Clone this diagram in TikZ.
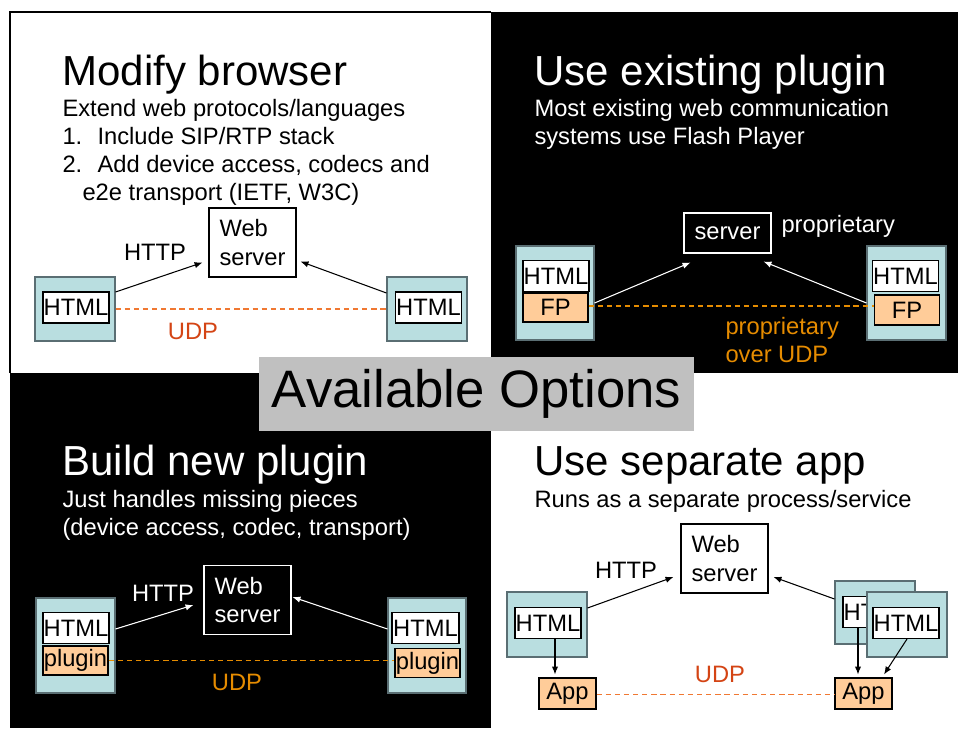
\documentclass[tikz,border=0pt]{standalone}
\usepackage{fontspec}
\setmainfont{Liberation Sans}
\usetikzlibrary{arrows.meta}

\definecolor{paneblue}{RGB}{185,222,224}
\definecolor{paneedge}{RGB}{90,110,115}
\definecolor{peach}{RGB}{255,204,153}
\definecolor{udpred}{RGB}{212,68,20}
\definecolor{udpline}{RGB}{240,120,50}
\definecolor{udporange}{RGB}{230,140,0}
\definecolor{bannergrey}{RGB}{192,192,192}

\newlength{\pxl}\setlength{\pxl}{0.02cm}
\newcommand{\headfont}{\fontsize{23.9}{28}\selectfont}
\newcommand{\bodyfont}{\fontsize{13.5}{16}\selectfont}

\tikzset{
  every node/.style={font=\bodyfont},
  caption/.style={anchor=base west, inner sep=0pt, align=left},
  pane/.style 2 args={draw=paneedge, fill=paneblue, minimum width=#1\pxl, minimum height=#2\pxl, inner sep=0pt},
  htmlbox/.style={draw=black, fill=white, text=black, minimum width=66\pxl, minimum height=31\pxl, inner sep=0pt},
  plugbox/.style={draw=black, fill=peach, text=black, minimum width=65\pxl, minimum height=29\pxl, inner sep=0pt},
  appbox/.style={draw=black, fill=peach, minimum width=57\pxl, minimum height=31\pxl, inner sep=0pt},
  webbox/.style={draw, align=left, minimum width=87\pxl, minimum height=69\pxl, inner sep=0pt},
  link/.style={-{Latex[length=4.5pt,width=3.6pt]}},
  udp/.style={dash pattern=on 3pt off 2.2pt, line width=0.9pt}
}

\begin{document}
\begin{tikzpicture}[x=0.02cm, y=-0.02cm, line width=0.6pt]
  \useasboundingbox (0,0) rectangle (958,728);

  % quadrants
  \fill[white] (10,12) rectangle (958,728);
  \fill[black] (491,12) rectangle (958,373);
  \fill[black] (10,373) rectangle (491,728);
  \draw (10,373) -- (10,12) -- (491,12);

  % modify browser
  \node[caption, font=\headfont] at (62,85) (titleA) {Modify browser};
  % (multi-line captions sit on their last baseline)
  \node[caption] at (62,200.7) (textA) {Extend web protocols/languages\\
    \makebox[35\pxl][l]{1.}Include SIP/RTP stack\\
    \makebox[35\pxl][l]{2.}Add device access, codecs and\\
    \hspace*{20\pxl}e2e transport (IETF, W3C)};

  \node[webbox] at (252.5,242.5) (webA) {Web\\server};
  \node[pane={80}{64}] at (75,309) (hostA1) {};
  \node[htmlbox] at (76,307.5) (htmlA1) {HTML};
  \node[pane={80}{64}] at (427,309) (hostA2) {};
  \node[htmlbox] at (428.5,307.5) (htmlA2) {HTML};

  \draw[link] ([shift={(0,-17)}]hostA1.east) -- ([shift={(-6,-15)}]webA.south west);
  \draw[link] ([shift={(0,-16)}]hostA2.west) -- ([shift={(4,-16)}]webA.south east);
  \draw[udp, draw=udpline] (hostA1.east) -- (hostA2.west);
  \node at (155,252) (httpA) {HTTP};
  \node[text=udpred] at (193,331) (udpA) {UDP};

  % existing plugin
  \node[caption, font=\headfont, text=white] at (534,85) (titleB) {Use existing plugin};
  \node[caption, text=white] at (534,144.2) (textB) {Most existing web communication\\
    systems use Flash Player};

  \node[webbox, draw=white, text=white, minimum height=40\pxl, align=center] at (727.5,233) (serverB) {server};
  \node[text=white, anchor=west, inner sep=0pt] at (781,226) (propB) {proprietary};
  \node[pane={78}{94}] at (555,293) (hostB1) {};
  \node[htmlbox] at (556,276) (htmlB1) {HTML};
  \node[plugbox] at (555.5,307.5) (fpB1) {FP};
  \node[pane={79}{94}] at (906.5,293) (hostB2) {};
  \node[htmlbox] at (905.5,276) (htmlB2) {HTML};
  \node[plugbox, minimum height=30\pxl] at (907,310) (fpB2) {FP};

  \draw[link, draw=white, fill=white] ([shift={(0,10)}]hostB1.east) -- ([shift={(7,9)}]serverB.south west);
  \draw[link, draw=white, fill=white] ([shift={(0,10)}]hostB2.west) -- ([shift={(-8,8)}]serverB.south east);
  \draw[udp, draw=udporange] ([yshift=1]fpB1.east) -- ([yshift=1]fpB1.east -| fpB2.west);
  \node[text=udporange, anchor=west, align=left, inner sep=0pt] at (725,340) (overB) {proprietary\\over UDP};

  % new plugin
  \node[caption, font=\headfont, text=white] at (62,475) (titleC) {Build new plugin};
  \node[caption, text=white] at (62,535.2) (textC) {Just handles missing pieces\\
    (device access, codec, transport)};

  \node[webbox, draw=white, text=white] at (247.5,600) (webC) {Web\\server};
  \node[pane={79}{95}] at (75.5,645.5) (hostC1) {};
  \node[htmlbox] at (76,628) (htmlC1) {HTML};
  \node[plugbox] at (75.5,660.5) (plugC1) {plugin};
  \node[pane={78}{95}] at (427,645.5) (hostC2) {};
  \node[htmlbox, minimum width=67\pxl] at (425.5,628) (htmlC2) {HTML};
  \node[plugbox] at (427.5,663) (plugC2) {plugin};

  \draw[link, draw=white, fill=white] ([shift={(0,-16.5)}]hostC1.east) -- ([shift={(-10,5)}]webC.west);
  \draw[link, draw=white, fill=white] ([shift={(0,-16.5)}]hostC2.west) -- ([shift={(1,-3)}]webC.east);
  \draw[udp, draw=udporange] (plugC1.east) -- (plugC1.east -| plugC2.west);
  \node[text=white] at (163,593) (httpC) {HTTP};
  \node[text=udporange] at (237,682) (udpC) {UDP};

  % separate app
  \node[caption, font=\headfont] at (534,475) (titleD) {Use separate app};
  \node[caption] at (534,507) (textD) {Runs as a separate process/service};

  \node[webbox, fill=white] at (724.5,558.5) (webD) {Web\\server};
  \node[pane={80}{65}] at (547,624.5) (hostD1) {};
  \node[htmlbox] at (548,623) (htmlD1) {HTML};
  \node[pane={80}{63}] at (875,612.5) (hostD2) {};
  \node[htmlbox] at (876,612) (htmlD2) {HTML};
  \node[pane={80}{65}] at (907,624.5) (hostD3) {};
  \node[htmlbox] at (906,623) (htmlD3) {HTML};
  \node[appbox] at (567.5,693.5) (appD1) {App};
  \node[appbox] at (863.5,693.5) (appD2) {App};

  \draw[link] ([shift={(0,-16.5)}]hostD1.east) -- ([shift={(-7,18.5)}]webD.west);
  \draw[link] ([shift={(0,-13.5)}]hostD2.west) -- ([shift={(5,18.5)}]webD.east);
  \draw[link] ([shift={(7,0)}]htmlD1.south) -- ([shift={(-12.5,-3)}]appD1.north);
  \draw[link] ([shift={(-18,0)}]htmlD2.south) -- ([shift={(-5.5,-3)}]appD2.north);
  \draw[link] ([shift={(1,0)}]htmlD3.south) -- ([shift={(20.5,-3)}]appD2.north);
  \draw[udp, draw=udpline] ([yshift=-0.5]appD1.east) -- ([yshift=-0.5]appD2.west);
  \node at (626,570) (httpD) {HTTP};
  \node[text=udpred] at (720,674) (udpD) {UDP};

  % banner
  \node[fill=bannergrey, minimum width=435\pxl, minimum height=74\pxl, inner sep=0pt,
    font=\fontsize{30}{36}\selectfont] at (476.5,394) (banner) {Available Options};
\end{tikzpicture}
\end{document}
